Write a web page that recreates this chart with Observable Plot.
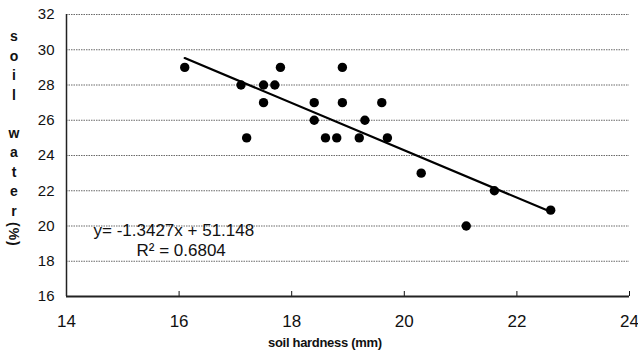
<!DOCTYPE html>
<html>
<head>
<meta charset="utf-8">
<script src="https://cdn.jsdelivr.net/npm/d3@7"></script>
<script src="https://cdn.jsdelivr.net/npm/@observablehq/plot@0.6"></script>
<style>
  body { margin: 0; background: #fff; }
  #wrap { position: relative; width: 638px; height: 356px; font-family: "Liberation Sans", Arial, sans-serif; }
  #ylab { position: absolute; left: 5px; top: 28px; writing-mode: vertical-rl; text-orientation: upright;
          font-weight: bold; font-size: 14px; letter-spacing: 3.5px; color: #111; line-height: 17px; }
  #ylab .sp { letter-spacing: 22px; }
  #ylab .m { text-orientation: mixed; letter-spacing: 1px; }
  #xlab { position: absolute; left: 268px; top: 335px; font-weight: bold; font-size: 13px; letter-spacing: -0.3px; color: #111; }
</style>
</head>
<body>
<div id="wrap">
  <div id="chart"></div>
  <div id="ylab">soi<span class="sp">l</span>water<span class="m">(%)</span></div>
  <div id="xlab">soil hardness (mm)</div>
</div>
<script>
const hardness = [16.1, 17.1, 17.2, 17.5, 17.5, 17.7, 17.8, 18.4, 18.4, 18.6, 18.8, 18.9, 18.9, 19.2, 19.3, 19.6, 19.7, 20.3, 21.1, 21.6, 22.6];
const water    = [29,   28,   25,   28,   27,   28,   29,   27,   26,   25,   25,   29,   27,   25,   26,   27,   25,   23,   20,   22,   20.9];
const xTicks = [14, 16, 18, 20, 22, 24];
const yTicks = [16, 18, 20, 22, 24, 26, 28, 30, 32];
const slope = -1.3427, intercept = 51.148;
const eqLabels = ["y= -1.3427x + 51.148", "R² = 0.6804"];

const pts = hardness.map((h, i) => ({h, w: water[i]}));
const xmin = d3.min(hardness), xmax = d3.max(hardness);
const trend = [xmin, xmax].map(h => ({h, w: slope * h + intercept}));

const chart = Plot.plot({
  width: 638, height: 356,
  marginLeft: 66, marginRight: 9, marginTop: 14, marginBottom: 60,
  style: {fontFamily: "'Liberation Sans', Arial, sans-serif", color: "#111", background: "#fff"},
  x: {domain: [14, 24], ticks: xTicks},
  y: {domain: [16, 32], ticks: yTicks},
  marks: [
    Plot.ruleY(yTicks.filter(t => t > 16), {stroke: "#444", strokeWidth: 1, strokeDasharray: "1.5,1", strokeOpacity: 0.8}),
    Plot.axisY({ticks: yTicks, tickSize: 0, tickPadding: 12, fontSize: 15, label: null}),
    Plot.axisX({ticks: xTicks, tickSize: -5, tickPadding: 23, fontSize: 17, label: null, stroke: "#111"}),
    Plot.ruleX([14], {stroke: "#222", strokeWidth: 1.5}),
    Plot.ruleY([16], {stroke: "#222", strokeWidth: 2}),
    Plot.line(trend, {x: "h", y: "w", stroke: "#000", strokeWidth: 2.2}),
    Plot.dot(pts, {x: "h", y: "w", r: 4.7, fill: "#000"}),
    Plot.text([eqLabels[0]], {frameAnchor: "bottom-left", dx: 27, dy: -61, textAnchor: "start", fontSize: 17, letterSpacing: 0.6, fill: "#111"}),
    Plot.text([eqLabels[1]], {frameAnchor: "bottom-left", dx: 70, dy: -41, textAnchor: "start", fontSize: 17, fill: "#111"})
  ]
});
document.getElementById("chart").appendChild(chart);
</script>
</body>
</html>
